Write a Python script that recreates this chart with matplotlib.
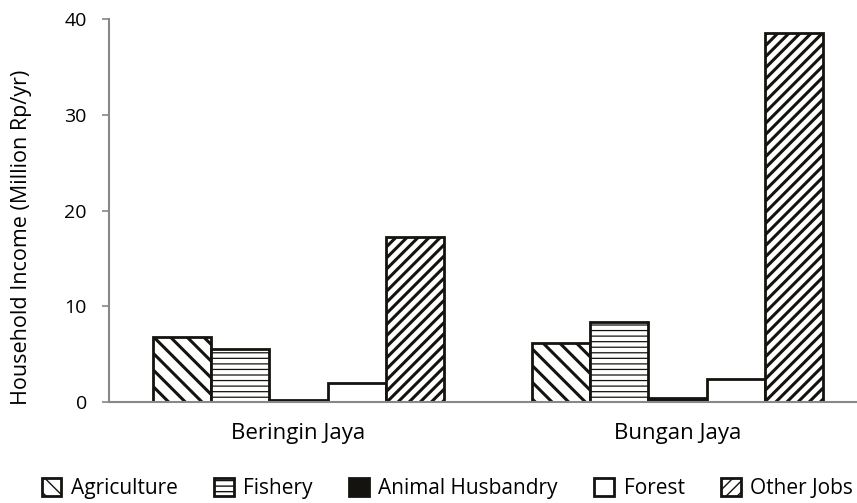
import numpy as np
import matplotlib
matplotlib.use("Agg")
import matplotlib.pyplot as plt

# household income by source, million Rp per year
villages = ["Beringin Jaya", "Bungan Jaya"]
sources = ["Agriculture", "Fishery", "Animal Husbandry", "Forest", "Other Jobs"]
agriculture = [6.75, 6.13]
fishery = [5.57, 8.36]
animal = [0.25, 0.45]
forest = [1.95, 2.43]
other_jobs = [17.27, 38.54]
yticks = [0, 10, 20, 30, 40]

plt.rcParams["font.family"] = ["Open Sans", "DejaVu Sans"]

series = [agriculture, fishery, animal, forest, other_jobs]
# fill, hatch pattern, hatch line width
styles = [("white", "\\\\", 2.2),
          ("white", "---", 0.9),
          ("#15130f", None, 1.0),
          ("white", None, 1.0),
          ("white", "///", 2.2)]

fig = plt.figure(figsize=(8.57, 5.03), dpi=100)
ax = fig.add_axes([0.1272, 0.2008, 0.8845, 0.7608])

x = np.arange(len(villages))
w = 0.1536
for i, (vals, (fc, hatch, hlw)) in enumerate(zip(series, styles)):
    with plt.rc_context({"hatch.linewidth": hlw}):
        bars = ax.bar(x + (i - 2) * w, vals, w, facecolor=fc, hatch=hatch,
                      edgecolor="#15130f", linewidth=2, label=sources[i])
        for b in bars:
            if hasattr(b, "set_hatch_linewidth"):
                b.set_hatch_linewidth(hlw)

ax.set_xlim(-0.5, 1.5)
ax.set_ylim(0, 40)
ax.set_yticks(yticks)
ax.set_xticks(x)
ax.set_xticklabels(villages, fontsize=16)
ax.tick_params(axis="x", length=0, pad=15)
ax.tick_params(axis="y", length=5, width=1.2, color="#888888", labelsize=14, pad=11)
ax.set_ylabel("Household Income (Million Rp/yr)", fontsize=15.5)
ax.yaxis.set_label_coords(-0.102, 0.43)
for s in ["top", "right"]:
    ax.spines[s].set_visible(False)
for s in ["left", "bottom"]:
    ax.spines[s].set_color("#888888")
    ax.spines[s].set_linewidth(1.5)

leg = fig.legend(loc="center", bbox_to_anchor=(0.522, 0.028), ncol=5,
                 frameon=False, fontsize=15, handlelength=0.95, handleheight=0.95,
                 handletextpad=0.45, columnspacing=1.75, borderaxespad=0)

fig.savefig("out.png", dpi=100)
